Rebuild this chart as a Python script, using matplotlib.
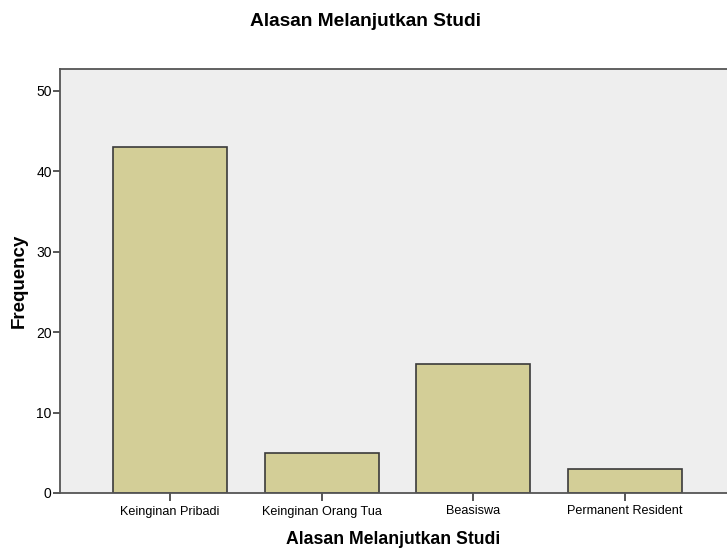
import matplotlib.pyplot as plt

# data
categories = ['Keinginan Pribadi', 'Keinginan Orang Tua', 'Beasiswa', 'Permanent Resident']
frequency = [43, 5, 16, 3]

plt.rcParams['font.family'] = ['Liberation Sans', 'DejaVu Sans']

fig = plt.figure(figsize=(7.27, 5.52), dpi=100)
ax = fig.add_axes([60 / 727, 1 - 493 / 552, 1 - 60 / 727, (493 - 69) / 552])
ax.set_facecolor('#eeeeee')

x = range(len(categories))
ax.bar(x, frequency, width=0.75, color='#d3ce97', edgecolor='#3a3a3a', linewidth=1.2, zorder=2)

ax.set_xlim(-0.724, 3.671)
ax.set_ylim(0, 52.7)
ax.set_yticks([0, 10, 20, 30, 40, 50])
ax.set_xticks(list(x))
ax.set_xticklabels(categories, fontsize=9.1)
ax.tick_params(axis='y', labelsize=10, length=5, width=1.2, color='#3a3a3a', pad=1)
ax.tick_params(axis='x', length=6, width=1.2, color='#3a3a3a', pad=3)

for s in ['left', 'top', 'bottom']:
    ax.spines[s].set_color('#555555')
    ax.spines[s].set_linewidth(1.3)
ax.spines['right'].set_visible(False)

ax.set_ylabel('Frequency', fontsize=13.5, fontweight='bold', labelpad=6)
ax.set_xlabel('Alasan Melanjutkan Studi', fontsize=12.7, fontweight='bold', labelpad=10)
fig.text(0.503, 1 - 22 / 552, 'Alasan Melanjutkan Studi', ha='center', va='center',
         fontsize=13.8, fontweight='bold')

fig.savefig('out.png', dpi=100)
